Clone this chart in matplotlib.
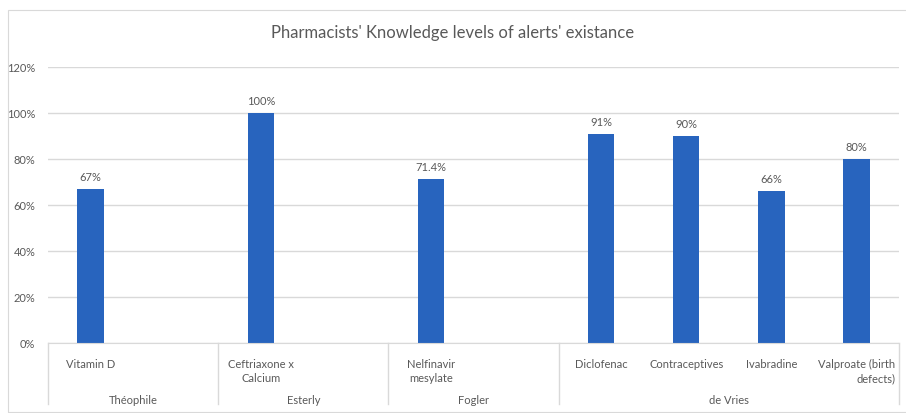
import numpy as np
import matplotlib.pyplot as plt
from matplotlib.patches import Rectangle

# Datos
groups = ["Théophile", "Esterly", "Fogler", "de Vries"]
group_sizes = [2, 2, 2, 4]
categories = ["Vitamin D", "", "Ceftriaxone x\nCalcium", "", "Nelfinavir\nmesylate", "",
              "Diclofenac", "Contraceptives", "Ivabradine", "Valproate (birth\ndefects)"]
values = [67, np.nan, 100, np.nan, 71.4, np.nan, 91, 90, 66, 80]
value_labels = ["67%", "", "100%", "", "71.4%", "", "91%", "90%", "66%", "80%"]

plt.rcParams["font.family"] = ["Lato", "DejaVu Sans"]
txt = "#595959"
grid = "#d9d9d9"

fig = plt.figure(figsize=(9.06, 4.14), dpi=100)
ax = fig.add_axes([48 / 906, 1 - 344 / 414, (899 - 48) / 906, (344 - 68) / 414])

# Borde del grafico
fig.patches.append(Rectangle((8 / 906, 1 / 414), 1, 1 - 12 / 414, transform=fig.transFigure,
                             fill=False, edgecolor="#d9d9d9", linewidth=0.8))

x = np.arange(len(categories))
ax.bar(x, values, width=0.31, color="#2864BE", zorder=3)
for xi, v, lab in zip(x, values, value_labels):
    if lab:
        ax.text(xi, v + 3, lab, ha="center", va="bottom", fontsize=8, color=txt)

ax.set_xlim(-0.5, len(categories) - 0.5)
ax.set_ylim(0, 120)
ax.set_yticks(range(0, 121, 20))
ax.set_yticklabels([f"{t}%" for t in range(0, 121, 20)], fontsize=8, color=txt)
ax.yaxis.grid(True, color=grid, linewidth=1, zorder=0)
ax.tick_params(axis="y", length=0, pad=9)
ax.set_xticks([])
for s in ["top", "right", "left"]:
    ax.spines[s].set_visible(False)
ax.spines["bottom"].set_color(grid)
ax.spines["bottom"].set_zorder(4)

# Etiquetas de categorias (dos niveles)
trans = ax.get_xaxis_transform()
for xi, c in zip(x, categories):
    if c:
        ax.text(xi, -0.055, c, transform=trans, ha="center", va="top", fontsize=8,
                color=txt, linespacing=1.35, multialignment="right" if "Valproate" in c else "center")

bounds = np.concatenate([[0], np.cumsum(group_sizes)]) - 0.5
for i, g in enumerate(groups):
    mid = (bounds[i] + bounds[i + 1]) / 2
    ax.text(mid, -0.185, g, transform=trans, ha="center", va="top", fontsize=8, color=txt)
for b in bounds:
    ax.plot([b, b], [0, -0.222], transform=trans, color=grid, linewidth=1, clip_on=False)

fig.text(0.5, 1 - 33 / 414, "Pharmacists' Knowledge levels of alerts' existance",
         ha="center", va="center", fontsize=12, color=txt)

fig.savefig("out.png", dpi=100)
